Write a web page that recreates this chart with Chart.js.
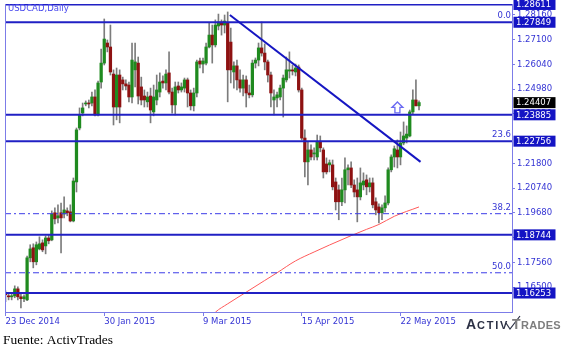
<!DOCTYPE html>
<html><head><meta charset="utf-8">
<script src="https://cdn.jsdelivr.net/npm/chart.js@4.4.1/dist/chart.umd.min.js"></script>
<style>html,body{margin:0;padding:0;background:#fff;}#wrap{width:571px;height:355px;position:relative}</style>
</head><body><div id="wrap"><canvas id="c" width="571" height="355"></canvas></div>
<script>
// ---- data (USDCAD daily, bar index 0 = 23 Dec 2014) ----
const openP = [1.1622,1.1613,1.1609,1.1613,1.1643,1.1609,1.1601,1.1596,1.1776,1.1819,
1.1759,1.1814,1.1840,1.1827,1.1861,1.1853,1.1969,1.1947,1.1969,1.1964,
1.1977,1.1973,1.1934,1.2101,1.2332,1.2396,1.2435,1.2439,1.2439,1.2465,
1.2388,1.2529,1.2610,1.2696,1.2679,1.2563,1.2422,1.2559,1.2538,1.2521,
1.2516,1.2465,1.2581,1.2610,1.2508,1.2469,1.2444,1.2469,1.2401,1.2452,
1.2486,1.2533,1.2525,1.2568,1.2486,1.2431,1.2512,1.2495,1.2503,1.2538,
1.2482,1.2427,1.2482,1.2619,1.2606,1.2610,1.2679,1.2730,1.2688,1.2769,
1.2786,1.2773,1.2782,1.2700,1.2572,1.2598,1.2538,1.2503,1.2538,1.2482,
1.2474,1.2610,1.2623,1.2675,1.2653,1.2615,1.2559,1.2452,1.2461,1.2465,
1.2503,1.2538,1.2576,1.2581,1.2572,1.2593,1.2495,1.2289,1.2187,1.2238,
1.2221,1.2208,1.2272,1.2238,1.2178,1.2174,1.2174,1.2101,1.2067,1.2016,
1.2067,1.2153,1.2161,1.2088,1.2067,1.2037,1.2088,1.2110,1.2080,1.2097,
1.2016,1.1994,1.1969,1.1990,1.2011,1.2153,1.2208,1.2238,1.2208,1.2268,
1.2289,1.2298,1.2401,1.2452,1.2427];
const highP = [1.1635,1.1626,1.1626,1.1656,1.1652,1.1622,1.1618,1.1784,1.1832,1.1836,
1.1844,1.1866,1.1853,1.1870,1.1874,1.1977,1.1990,1.2003,1.2011,1.2037,
1.1990,1.2003,1.2118,1.2332,1.2418,1.2439,1.2448,1.2452,1.2486,1.2495,
1.2533,1.2670,1.2799,1.2709,1.2773,1.2581,1.2589,1.2581,1.2550,1.2538,
1.2529,1.2696,1.2696,1.2636,1.2550,1.2495,1.2486,1.2503,1.2516,1.2559,
1.2568,1.2555,1.2581,1.2658,1.2503,1.2529,1.2529,1.2525,1.2546,1.2546,
1.2495,1.2503,1.2623,1.2632,1.2632,1.2696,1.2782,1.2773,1.2795,1.2820,
1.2795,1.2816,1.2829,1.2760,1.2615,1.2623,1.2581,1.2559,1.2555,1.2516,
1.2623,1.2632,1.2696,1.2786,1.2692,1.2623,1.2572,1.2495,1.2486,1.2516,
1.2559,1.2636,1.2658,1.2602,1.2606,1.2602,1.2503,1.2324,1.2272,1.2260,
1.2247,1.2302,1.2298,1.2247,1.2204,1.2195,1.2195,1.2118,1.2088,1.2118,
1.2204,1.2174,1.2187,1.2110,1.2118,1.2161,1.2140,1.2131,1.2118,1.2118,
1.2033,1.2007,1.2003,1.2041,1.2161,1.2217,1.2255,1.2281,1.2315,1.2358,
1.2341,1.2409,1.2495,1.2538,1.2448];
const lowP = [1.1588,1.1596,1.1596,1.1605,1.1596,1.1562,1.1588,1.1592,1.1759,1.1733,
1.1746,1.1810,1.1802,1.1793,1.1836,1.1849,1.1921,1.1926,1.1797,1.1947,
1.1956,1.1930,1.1930,1.2058,1.2324,1.2384,1.2427,1.2418,1.2427,1.2384,
1.2384,1.2503,1.2602,1.2658,1.2559,1.2345,1.2367,1.2354,1.2495,1.2495,
1.2444,1.2439,1.2508,1.2435,1.2431,1.2422,1.2422,1.2354,1.2384,1.2431,
1.2465,1.2503,1.2495,1.2478,1.2396,1.2388,1.2482,1.2486,1.2486,1.2422,
1.2409,1.2405,1.2465,1.2589,1.2568,1.2602,1.2675,1.2610,1.2679,1.2752,
1.2730,1.2739,1.2444,1.2525,1.2503,1.2495,1.2486,1.2469,1.2422,1.2461,
1.2465,1.2589,1.2598,1.2640,1.2581,1.2529,1.2422,1.2388,1.2422,1.2452,
1.2379,1.2529,1.2546,1.2559,1.2555,1.2486,1.2281,1.2123,1.2088,1.2195,
1.2195,1.2195,1.2230,1.2118,1.2135,1.2144,1.2067,1.1981,1.1939,1.1999,
1.2011,1.2088,1.2076,1.2037,1.1930,1.2024,1.2067,1.2046,1.2058,1.1990,
1.1960,1.1926,1.1939,1.1973,1.2003,1.2144,1.2165,1.2161,1.2174,1.2260,
1.2268,1.2294,1.2392,1.2427,1.2409];
const closeP = [1.1618,1.1609,1.1613,1.1643,1.1609,1.1601,1.1609,1.1776,1.1814,1.1759,
1.1832,1.1836,1.1810,1.1861,1.1849,1.1964,1.1943,1.1956,1.1947,1.1981,
1.1969,1.1934,1.2105,1.2324,1.2388,1.2418,1.2439,1.2435,1.2465,1.2388,
1.2525,1.2610,1.2713,1.2679,1.2572,1.2422,1.2559,1.2422,1.2521,1.2512,
1.2465,1.2623,1.2615,1.2469,1.2452,1.2452,1.2465,1.2409,1.2465,1.2495,
1.2529,1.2525,1.2563,1.2486,1.2431,1.2508,1.2495,1.2508,1.2538,1.2482,
1.2427,1.2482,1.2615,1.2606,1.2619,1.2679,1.2730,1.2688,1.2773,1.2786,
1.2773,1.2790,1.2581,1.2581,1.2598,1.2538,1.2503,1.2538,1.2482,1.2474,
1.2610,1.2623,1.2675,1.2653,1.2615,1.2559,1.2482,1.2465,1.2474,1.2503,
1.2546,1.2581,1.2581,1.2576,1.2589,1.2495,1.2289,1.2187,1.2238,1.2208,
1.2225,1.2272,1.2247,1.2144,1.2144,1.2183,1.2080,1.2016,1.2016,1.2067,
1.2153,1.2161,1.2088,1.2058,1.2037,1.2097,1.2105,1.2080,1.2097,1.2003,
1.1981,1.1969,1.1990,1.2011,1.2153,1.2208,1.2243,1.2208,1.2268,1.2298,
1.2306,1.2401,1.2452,1.2427,1.2441];

// moving average (red) read at bar indices
const maIdx = [67, 68, 72, 78, 84, 88, 94, 100, 105, 112, 117, 121, 126, 134];
const maVal = [1.1528,1.1543,1.1579,1.1629,1.1679,1.1712,1.1763,1.1801,1.1831,1.1871,1.1898,1.1919,1.1954,1.1994];

// horizontal levels
const solidLevels = [1.28611, 1.27849, 1.23885, 1.22756, 1.18744, 1.16253];
const dashLevels = [1.1965, 1.1712];
const fibNames = ['0.0', '23.6', '38.2', '50.0'];
const fibPrices = [1.27849, 1.22756, 1.1965, 1.1712];
const lastPrice = 1.24407;

// trend line (bar index, price)
const trendIdx = [72.7, 134.5];
const trendVal = [1.2816, 1.2187];
const arrowIdx = 127, arrowVal = 1.2420;

// axes
const yTicks = [1.28160,1.27100,1.26040,1.24980,1.23920,1.21800,1.20740,1.19680,1.18620,1.17560,1.16500];
const xTickIdx = [0, 32, 64, 96, 128];
const xTickLabels = ['23 Dec 2014', '30 Jan 2015', '9 Mar 2015', '15 Apr 2015', '22 May 2015'];

const xMin = -0.162, xMax = 164.13, yMin = 1.1544, yMax = 1.28631;

// ---- build ----
const FONT = 'DejaVu Sans';
const BLUE_TXT = '#3434d4';
const AXIS = '#7c7ce8';
const wickData = openP.map((_, i) => ({x: i, y: [lowP[i], highP[i]]}));
const bodyData = openP.map((o, i) => ({x: i, y: [o, closeP[i]]}));
const bodyColors = openP.map((o, i) => closeP[i] >= o ? '#1f8a1f' : '#8e1212');

const datasets = [
  {type: 'bar', data: wickData, backgroundColor: '#7c7c7c', barThickness: 1, grouped: false, minBarLength: 1, order: 10},
  {type: 'bar', data: bodyData, backgroundColor: bodyColors, barThickness: 2.6, grouped: false, minBarLength: 1, order: 9},
  {type: 'line', data: maIdx.map((x, k) => ({x, y: maVal[k]})), borderColor: '#ff5a5a', borderWidth: 1, pointRadius: 0, cubicInterpolationMode: 'monotone', order: 3}
];
solidLevels.forEach(v => datasets.push({type: 'line', data: [{x: xMin, y: v}, {x: xMax, y: v}], borderColor: '#2020c4', borderWidth: 2, pointRadius: 0, order: 2}));
dashLevels.forEach(v => datasets.push({type: 'line', data: [{x: xMin, y: v}, {x: xMax, y: v}], borderColor: '#3c3ce8', borderWidth: 1, borderDash: [6, 3, 2, 3], pointRadius: 0, order: 2}));
datasets.push({type: 'line', data: trendIdx.map((x, k) => ({x, y: trendVal[k]})), borderColor: '#1616c2', borderWidth: 2, pointRadius: 0, order: 1});

const decor = {
  id: 'decor',
  afterDraw(chart) {
    const ctx = chart.ctx, ys = chart.scales.y, xs = chart.scales.x, a = chart.chartArea;
    ctx.save();
    // left frame
    ctx.strokeStyle = AXIS; ctx.lineWidth = 1;
    ctx.beginPath(); ctx.moveTo(a.left + 0.5, a.top); ctx.lineTo(a.left + 0.5, a.bottom); ctx.stroke();
    // title
    ctx.fillStyle = '#4646ee'; ctx.font = '8.5px "' + FONT + '"'; ctx.textBaseline = 'middle'; ctx.textAlign = 'left';
    ctx.fillText('USDCAD,Daily', 8, 9);
    // fib labels
    ctx.fillStyle = BLUE_TXT; ctx.textAlign = 'right'; ctx.textBaseline = 'bottom';
    fibNames.forEach((n, k) => ctx.fillText(n, a.right - 1, ys.getPixelForValue(fibPrices[k]) - 2));
    // price boxes
    ctx.textAlign = 'left'; ctx.textBaseline = 'middle';
    const box = (v, bg) => {
      const y = ys.getPixelForValue(v);
      ctx.fillStyle = bg; ctx.fillRect(a.right + 1.5, y - 5.5, 42, 11);
      ctx.fillStyle = '#ffffff'; ctx.fillText(v.toFixed(5), a.right + 4, y + 0.5);
    };
    solidLevels.forEach(v => box(v, '#1414c4'));
    box(lastPrice, '#000000');
    // arrow
    const ax = xs.getPixelForValue(arrowIdx), ay = ys.getPixelForValue(arrowVal) - 5.5;
    ctx.beginPath();
    ctx.moveTo(ax, ay); ctx.lineTo(ax + 5.5, ay + 5.5); ctx.lineTo(ax + 2.5, ay + 5.5); ctx.lineTo(ax + 2.5, ay + 11);
    ctx.lineTo(ax - 2.5, ay + 11); ctx.lineTo(ax - 2.5, ay + 5.5); ctx.lineTo(ax - 5.5, ay + 5.5); ctx.closePath();
    ctx.fillStyle = '#ffffff'; ctx.fill();
    ctx.strokeStyle = '#6a6af2'; ctx.lineWidth = 1.3; ctx.stroke();
    // source
    ctx.fillStyle = '#000000'; ctx.textAlign = 'left'; ctx.textBaseline = 'alphabetic';
    ctx.font = '13.5px "Liberation Serif"';
    ctx.fillText('Fuente: ActivTrades', 3, 344);
    // logo
    const dark = '#2c3145', grey = '#7e7e7e';
    ctx.fillStyle = dark;
    ctx.font = 'bold 14px "Liberation Sans"'; ctx.fillText('A', 466, 329);
    ctx.font = 'bold 11px "Liberation Sans"';
    let x = 477;
    ['C', 'T', 'I', 'V'].forEach(ch => { ctx.fillText(ch, x, 329); x += ctx.measureText(ch).width + 1.8; });
    ctx.strokeStyle = dark; ctx.lineWidth = 1.2;
    ctx.beginPath(); ctx.moveTo(506, 323); ctx.lineTo(510, 329); ctx.lineTo(520, 316); ctx.stroke();
    ctx.fillStyle = grey;
    ctx.font = 'bold 14px "Liberation Sans"'; ctx.fillText('T', 512, 329);
    ctx.font = 'bold 11px "Liberation Sans"';
    x = 521;
    ['R', 'A', 'D', 'E', 'S'].forEach(ch => { ctx.fillText(ch, x, 329); x += ctx.measureText(ch).width + 0.3; });
    ctx.restore();
  }
};

new Chart(document.getElementById('c'), {
  type: 'bar',
  data: {datasets},
  options: {
    responsive: false, animation: false, devicePixelRatio: 1,
    layout: {padding: {left: 5, top: 4, right: 0, bottom: 0}},
    plugins: {legend: {display: false}, tooltip: {enabled: false}},
    scales: {
      x: {
        type: 'linear', min: xMin, max: xMax, offset: false,
        grid: {display: true, offset: false, drawOnChartArea: false, drawTicks: true, tickLength: 4, color: AXIS},
        border: {display: true, color: AXIS, width: 1},
        ticks: {autoSkip: false, maxRotation: 0, align: 'start', padding: 1, color: BLUE_TXT,
          font: {family: FONT, size: 8.5},
          callback: v => { const k = xTickIdx.indexOf(v); return k >= 0 ? xTickLabels[k] : ''; }},
        afterBuildTicks: s => { s.ticks = xTickIdx.map(v => ({value: v})); },
        afterFit: s => { s.height = 43; s.paddingLeft = 0; s.paddingRight = 0; }
      },
      y: {
        type: 'linear', position: 'right', min: yMin, max: yMax,
        grid: {display: true, drawOnChartArea: false, drawTicks: true, tickLength: 3, color: AXIS},
        border: {display: true, color: AXIS, width: 1},
        ticks: {autoSkip: false, padding: 2, color: BLUE_TXT, font: {family: FONT, size: 8.5},
          callback: v => Number(v).toFixed(5)},
        afterBuildTicks: s => { s.ticks = yTicks.map(v => ({value: v})); },
        afterFit: s => { s.width = 59; s.paddingTop = 0; s.paddingBottom = 0; }
      }
    }
  },
  plugins: [decor]
});
</script></body></html>
